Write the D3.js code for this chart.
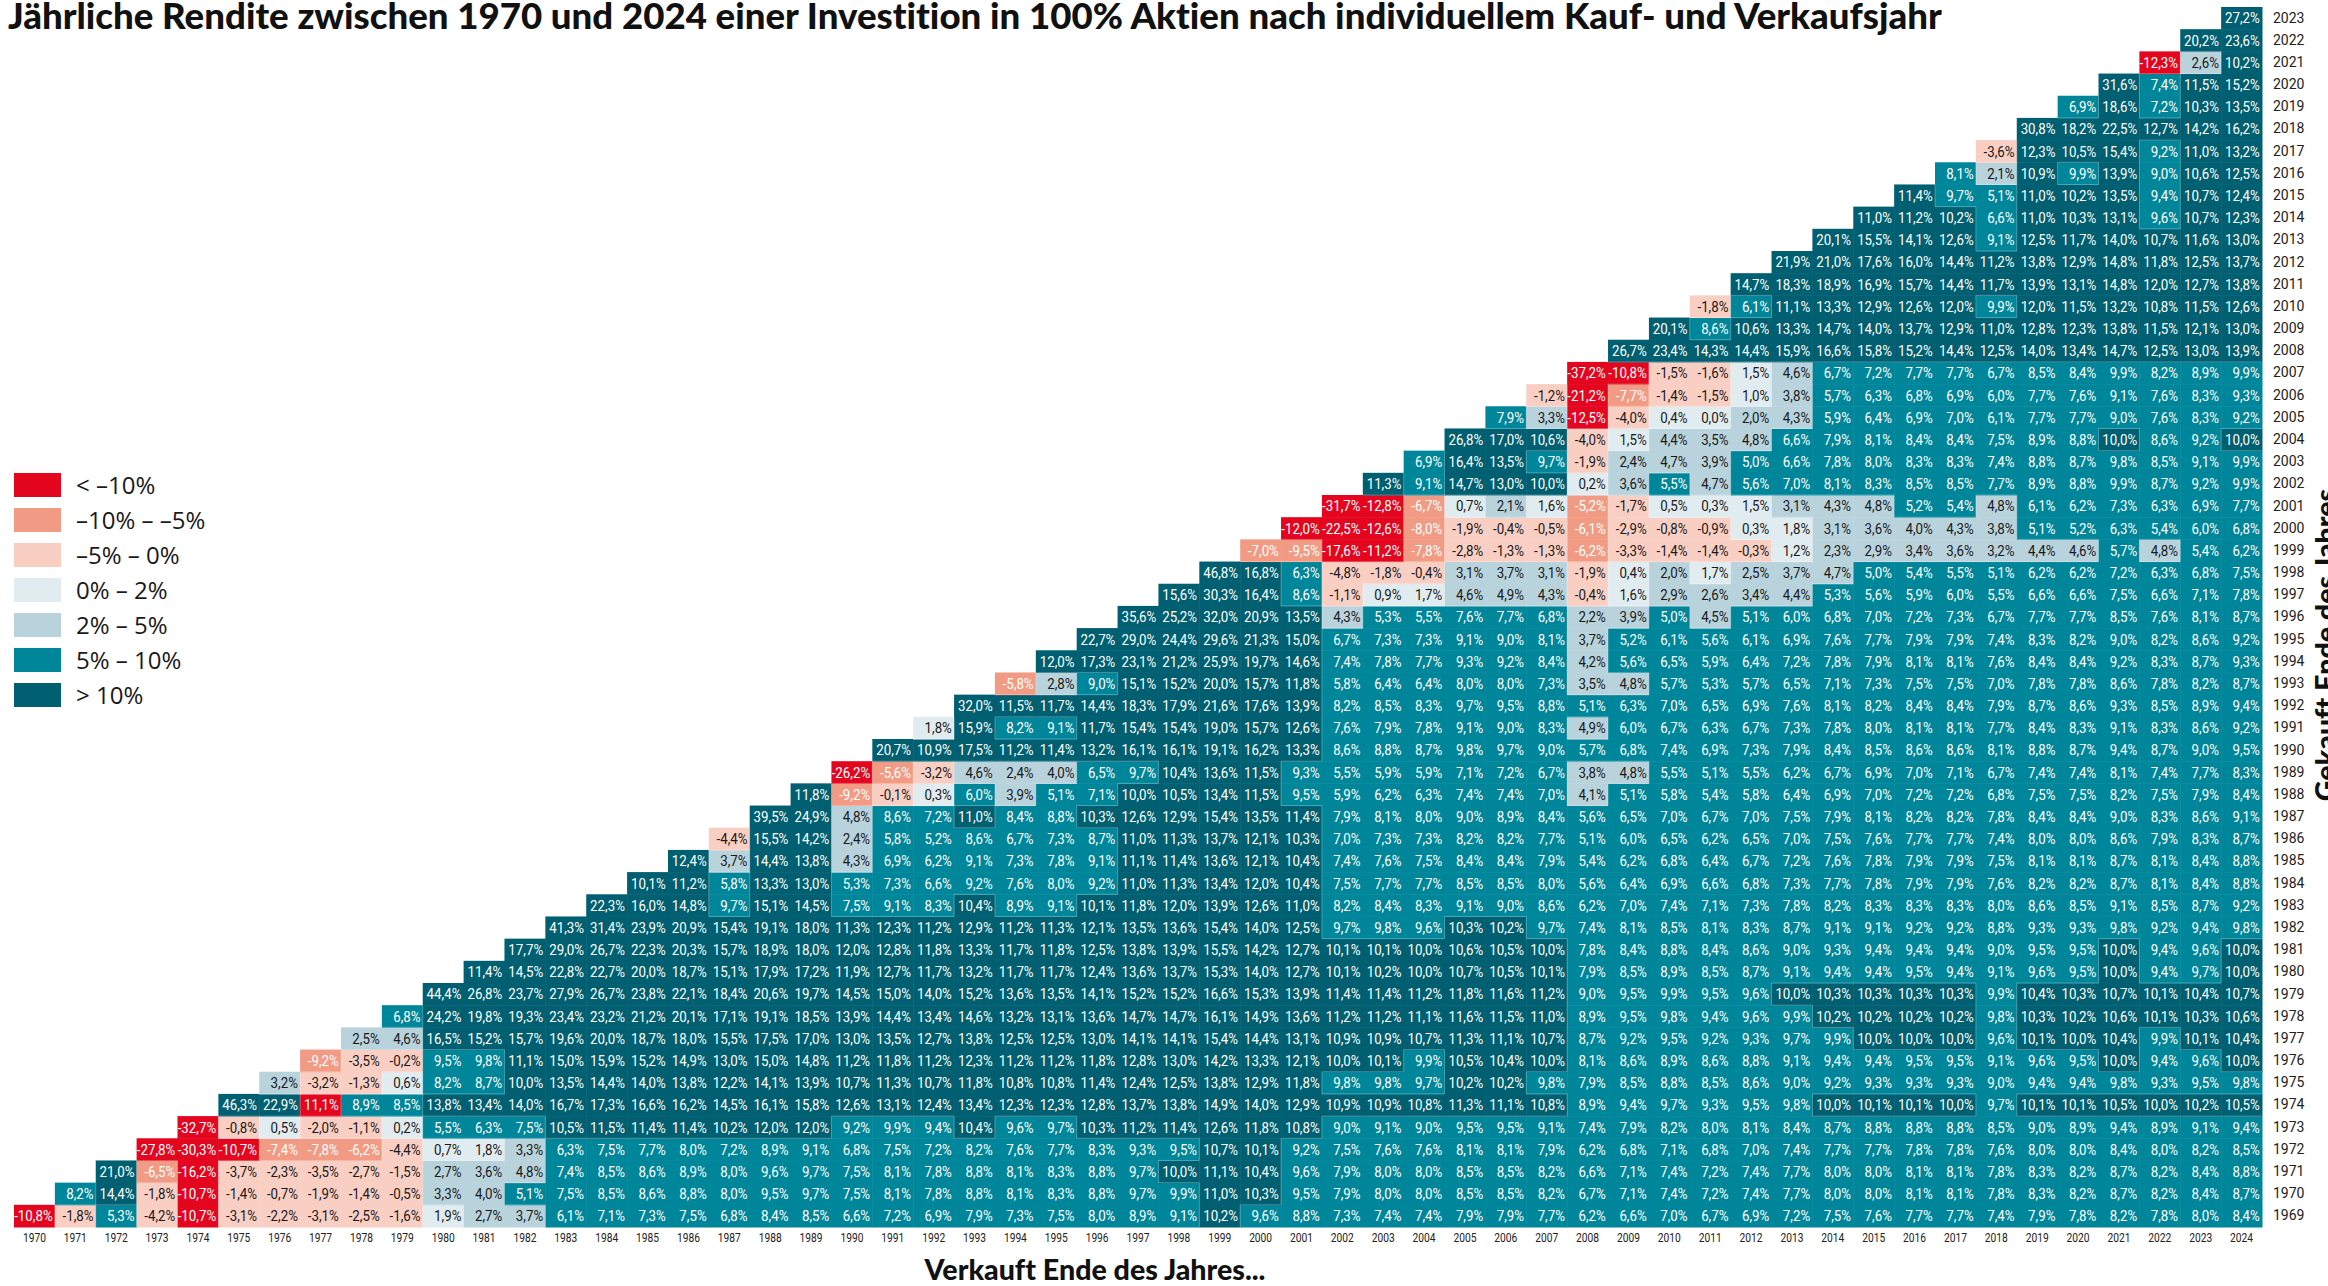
<!DOCTYPE html>
<html>
<head>
<meta charset="utf-8">
<script src="https://cdn.jsdelivr.net/npm/d3@7"></script>
<style>
  body { margin: 0; background: #fff; }
  svg { display: block; }
  text { font-variant-ligatures: none; }
</style>
</head>
<body>
<div id="chart"></div>
<script>
// Sell years (columns) and buy years (rows)
const sellYears = d3.range(1970, 2025);
const buyYears = d3.range(1969, 2024);

// Annualised return in %, one array per buy year, starting with the following sell year
const r1969 = [-10.8,-1.8,5.3,-4.2,-10.7,-3.1,-2.2,-3.1,-2.5,-1.6,1.9,2.7,3.7,6.1,7.1,7.3,7.5,6.8,8.4,8.5,6.6,7.2,6.9,7.9,7.3,7.5,8.0,8.9,9.1,10.2,9.6,8.8,7.3,7.4,7.4,7.9,7.9,7.7,6.2,6.6,7.0,6.7,6.9,7.2,7.5,7.6,7.7,7.7,7.4,7.9,7.8,8.2,7.8,8.0,8.4];
const r1970 = [8.2,14.4,-1.8,-10.7,-1.4,-0.7,-1.9,-1.4,-0.5,3.3,4.0,5.1,7.5,8.5,8.6,8.8,8.0,9.5,9.7,7.5,8.1,7.8,8.8,8.1,8.3,8.8,9.7,9.9,11.0,10.3,9.5,7.9,8.0,8.0,8.5,8.5,8.2,6.7,7.1,7.4,7.2,7.4,7.7,8.0,8.0,8.1,8.1,7.8,8.3,8.2,8.7,8.2,8.4,8.7];
const r1971 = [21.0,-6.5,-16.2,-3.7,-2.3,-3.5,-2.7,-1.5,2.7,3.6,4.8,7.4,8.5,8.6,8.9,8.0,9.6,9.7,7.5,8.1,7.8,8.8,8.1,8.3,8.8,9.7,10.0,11.1,10.4,9.6,7.9,8.0,8.0,8.5,8.5,8.2,6.6,7.1,7.4,7.2,7.4,7.7,8.0,8.0,8.1,8.1,7.8,8.3,8.2,8.7,8.2,8.4,8.8];
const r1972 = [-27.8,-30.3,-10.7,-7.4,-7.8,-6.2,-4.4,0.7,1.8,3.3,6.3,7.5,7.7,8.0,7.2,8.9,9.1,6.8,7.5,7.2,8.2,7.6,7.7,8.3,9.3,9.5,10.7,10.1,9.2,7.5,7.6,7.6,8.1,8.1,7.9,6.2,6.8,7.1,6.8,7.0,7.4,7.7,7.7,7.8,7.8,7.6,8.0,8.0,8.4,8.0,8.2,8.5];
const r1973 = [-32.7,-0.8,0.5,-2.0,-1.1,0.2,5.5,6.3,7.5,10.5,11.5,11.4,11.4,10.2,12.0,12.0,9.2,9.9,9.4,10.4,9.6,9.7,10.3,11.2,11.4,12.6,11.8,10.8,9.0,9.1,9.0,9.5,9.5,9.1,7.4,7.9,8.2,8.0,8.1,8.4,8.7,8.8,8.8,8.8,8.5,9.0,8.9,9.4,8.9,9.1,9.4];
const r1974 = [46.3,22.9,11.1,8.9,8.5,13.8,13.4,14.0,16.7,17.3,16.6,16.2,14.5,16.1,15.8,12.6,13.1,12.4,13.4,12.3,12.3,12.8,13.7,13.8,14.9,14.0,12.9,10.9,10.9,10.8,11.3,11.1,10.8,8.9,9.4,9.7,9.3,9.5,9.8,10.0,10.1,10.1,10.0,9.7,10.1,10.1,10.5,10.0,10.2,10.5];
const r1975 = [3.2,-3.2,-1.3,0.6,8.2,8.7,10.0,13.5,14.4,14.0,13.8,12.2,14.1,13.9,10.7,11.3,10.7,11.8,10.8,10.8,11.4,12.4,12.5,13.8,12.9,11.8,9.8,9.8,9.7,10.2,10.2,9.8,7.9,8.5,8.8,8.5,8.6,9.0,9.2,9.3,9.3,9.3,9.0,9.4,9.4,9.8,9.3,9.5,9.8];
const r1976 = [-9.2,-3.5,-0.2,9.5,9.8,11.1,15.0,15.9,15.2,14.9,13.0,15.0,14.8,11.2,11.8,11.2,12.3,11.2,11.2,11.8,12.8,13.0,14.2,13.3,12.1,10.0,10.1,9.9,10.5,10.4,10.0,8.1,8.6,8.9,8.6,8.8,9.1,9.4,9.4,9.5,9.5,9.1,9.6,9.5,10.0,9.4,9.6,10.0];
const r1977 = [2.5,4.6,16.5,15.2,15.7,19.6,20.0,18.7,18.0,15.5,17.5,17.0,13.0,13.5,12.7,13.8,12.5,12.5,13.0,14.1,14.1,15.4,14.4,13.1,10.9,10.9,10.7,11.3,11.1,10.7,8.7,9.2,9.5,9.2,9.3,9.7,9.9,10.0,10.0,10.0,9.6,10.1,10.0,10.4,9.9,10.1,10.4];
const r1978 = [6.8,24.2,19.8,19.3,23.4,23.2,21.2,20.1,17.1,19.1,18.5,13.9,14.4,13.4,14.6,13.2,13.1,13.6,14.7,14.7,16.1,14.9,13.6,11.2,11.2,11.1,11.6,11.5,11.0,8.9,9.5,9.8,9.4,9.6,9.9,10.2,10.2,10.2,10.2,9.8,10.3,10.2,10.6,10.1,10.3,10.6];
const r1979 = [44.4,26.8,23.7,27.9,26.7,23.8,22.1,18.4,20.6,19.7,14.5,15.0,14.0,15.2,13.6,13.5,14.1,15.2,15.2,16.6,15.3,13.9,11.4,11.4,11.2,11.8,11.6,11.2,9.0,9.5,9.9,9.5,9.6,10.0,10.3,10.3,10.3,10.3,9.9,10.4,10.3,10.7,10.1,10.4,10.7];
const r1980 = [11.4,14.5,22.8,22.7,20.0,18.7,15.1,17.9,17.2,11.9,12.7,11.7,13.2,11.7,11.7,12.4,13.6,13.7,15.3,14.0,12.7,10.1,10.2,10.0,10.7,10.5,10.1,7.9,8.5,8.9,8.5,8.7,9.1,9.4,9.4,9.5,9.4,9.1,9.6,9.5,10.0,9.4,9.7,10.0];
const r1981 = [17.7,29.0,26.7,22.3,20.3,15.7,18.9,18.0,12.0,12.8,11.8,13.3,11.7,11.8,12.5,13.8,13.9,15.5,14.2,12.7,10.1,10.1,10.0,10.6,10.5,10.0,7.8,8.4,8.8,8.4,8.6,9.0,9.3,9.4,9.4,9.4,9.0,9.5,9.5,10.0,9.4,9.6,10.0];
const r1982 = [41.3,31.4,23.9,20.9,15.4,19.1,18.0,11.3,12.3,11.2,12.9,11.2,11.3,12.1,13.5,13.6,15.4,14.0,12.5,9.7,9.8,9.6,10.3,10.2,9.7,7.4,8.1,8.5,8.1,8.3,8.7,9.1,9.1,9.2,9.2,8.8,9.3,9.3,9.8,9.2,9.4,9.8];
const r1983 = [22.3,16.0,14.8,9.7,15.1,14.5,7.5,9.1,8.3,10.4,8.9,9.1,10.1,11.8,12.0,13.9,12.6,11.0,8.2,8.4,8.3,9.1,9.0,8.6,6.2,7.0,7.4,7.1,7.3,7.8,8.2,8.3,8.3,8.3,8.0,8.6,8.5,9.1,8.5,8.7,9.2];
const r1984 = [10.1,11.2,5.8,13.3,13.0,5.3,7.3,6.6,9.2,7.6,8.0,9.2,11.0,11.3,13.4,12.0,10.4,7.5,7.7,7.7,8.5,8.5,8.0,5.6,6.4,6.9,6.6,6.8,7.3,7.7,7.8,7.9,7.9,7.6,8.2,8.2,8.7,8.1,8.4,8.8];
const r1985 = [12.4,3.7,14.4,13.8,4.3,6.9,6.2,9.1,7.3,7.8,9.1,11.1,11.4,13.6,12.1,10.4,7.4,7.6,7.5,8.4,8.4,7.9,5.4,6.2,6.8,6.4,6.7,7.2,7.6,7.8,7.9,7.9,7.5,8.1,8.1,8.7,8.1,8.4,8.8];
const r1986 = [-4.4,15.5,14.2,2.4,5.8,5.2,8.6,6.7,7.3,8.7,11.0,11.3,13.7,12.1,10.3,7.0,7.3,7.3,8.2,8.2,7.7,5.1,6.0,6.5,6.2,6.5,7.0,7.5,7.6,7.7,7.7,7.4,8.0,8.0,8.6,7.9,8.3,8.7];
const r1987 = [39.5,24.9,4.8,8.6,7.2,11.0,8.4,8.8,10.3,12.6,12.9,15.4,13.5,11.4,7.9,8.1,8.0,9.0,8.9,8.4,5.6,6.5,7.0,6.7,7.0,7.5,7.9,8.1,8.2,8.2,7.8,8.4,8.4,9.0,8.3,8.6,9.1];
const r1988 = [11.8,-9.2,-0.1,0.3,6.0,3.9,5.1,7.1,10.0,10.5,13.4,11.5,9.5,5.9,6.2,6.3,7.4,7.4,7.0,4.1,5.1,5.8,5.4,5.8,6.4,6.9,7.0,7.2,7.2,6.8,7.5,7.5,8.2,7.5,7.9,8.4];
const r1989 = [-26.2,-5.6,-3.2,4.6,2.4,4.0,6.5,9.7,10.4,13.6,11.5,9.3,5.5,5.9,5.9,7.1,7.2,6.7,3.8,4.8,5.5,5.1,5.5,6.2,6.7,6.9,7.0,7.1,6.7,7.4,7.4,8.1,7.4,7.7,8.3];
const r1990 = [20.7,10.9,17.5,11.2,11.4,13.2,16.1,16.1,19.1,16.2,13.3,8.6,8.8,8.7,9.8,9.7,9.0,5.7,6.8,7.4,6.9,7.3,7.9,8.4,8.5,8.6,8.6,8.1,8.8,8.7,9.4,8.7,9.0,9.5];
const r1991 = [1.8,15.9,8.2,9.1,11.7,15.4,15.4,19.0,15.7,12.6,7.6,7.9,7.8,9.1,9.0,8.3,4.9,6.0,6.7,6.3,6.7,7.3,7.8,8.0,8.1,8.1,7.7,8.4,8.3,9.1,8.3,8.6,9.2];
const r1992 = [32.0,11.5,11.7,14.4,18.3,17.9,21.6,17.6,13.9,8.2,8.5,8.3,9.7,9.5,8.8,5.1,6.3,7.0,6.5,6.9,7.6,8.1,8.2,8.4,8.4,7.9,8.7,8.6,9.3,8.5,8.9,9.4];
const r1993 = [-5.8,2.8,9.0,15.1,15.2,20.0,15.7,11.8,5.8,6.4,6.4,8.0,8.0,7.3,3.5,4.8,5.7,5.3,5.7,6.5,7.1,7.3,7.5,7.5,7.0,7.8,7.8,8.6,7.8,8.2,8.7];
const r1994 = [12.0,17.3,23.1,21.2,25.9,19.7,14.6,7.4,7.8,7.7,9.3,9.2,8.4,4.2,5.6,6.5,5.9,6.4,7.2,7.8,7.9,8.1,8.1,7.6,8.4,8.4,9.2,8.3,8.7,9.3];
const r1995 = [22.7,29.0,24.4,29.6,21.3,15.0,6.7,7.3,7.3,9.1,9.0,8.1,3.7,5.2,6.1,5.6,6.1,6.9,7.6,7.7,7.9,7.9,7.4,8.3,8.2,9.0,8.2,8.6,9.2];
const r1996 = [35.6,25.2,32.0,20.9,13.5,4.3,5.3,5.5,7.6,7.7,6.8,2.2,3.9,5.0,4.5,5.1,6.0,6.8,7.0,7.2,7.3,6.7,7.7,7.7,8.5,7.6,8.1,8.7];
const r1997 = [15.6,30.3,16.4,8.6,-1.1,0.9,1.7,4.6,4.9,4.3,-0.4,1.6,2.9,2.6,3.4,4.4,5.3,5.6,5.9,6.0,5.5,6.6,6.6,7.5,6.6,7.1,7.8];
const r1998 = [46.8,16.8,6.3,-4.8,-1.8,-0.4,3.1,3.7,3.1,-1.9,0.4,2.0,1.7,2.5,3.7,4.7,5.0,5.4,5.5,5.1,6.2,6.2,7.2,6.3,6.8,7.5];
const r1999 = [-7.0,-9.5,-17.6,-11.2,-7.8,-2.8,-1.3,-1.3,-6.2,-3.3,-1.4,-1.4,-0.3,1.2,2.3,2.9,3.4,3.6,3.2,4.4,4.6,5.7,4.8,5.4,6.2];
const r2000 = [-12.0,-22.5,-12.6,-8.0,-1.9,-0.4,-0.5,-6.1,-2.9,-0.8,-0.9,0.3,1.8,3.1,3.6,4.0,4.3,3.8,5.1,5.2,6.3,5.4,6.0,6.8];
const r2001 = [-31.7,-12.8,-6.7,0.7,2.1,1.6,-5.2,-1.7,0.5,0.3,1.5,3.1,4.3,4.8,5.2,5.4,4.8,6.1,6.2,7.3,6.3,6.9,7.7];
const r2002 = [11.3,9.1,14.7,13.0,10.0,0.2,3.6,5.5,4.7,5.6,7.0,8.1,8.3,8.5,8.5,7.7,8.9,8.8,9.9,8.7,9.2,9.9];
const r2003 = [6.9,16.4,13.5,9.7,-1.9,2.4,4.7,3.9,5.0,6.6,7.8,8.0,8.3,8.3,7.4,8.8,8.7,9.8,8.5,9.1,9.9];
const r2004 = [26.8,17.0,10.6,-4.0,1.5,4.4,3.5,4.8,6.6,7.9,8.1,8.4,8.4,7.5,8.9,8.8,10.0,8.6,9.2,10.0];
const r2005 = [7.9,3.3,-12.5,-4.0,0.4,0.0,2.0,4.3,5.9,6.4,6.9,7.0,6.1,7.7,7.7,9.0,7.6,8.3,9.2];
const r2006 = [-1.2,-21.2,-7.7,-1.4,-1.5,1.0,3.8,5.7,6.3,6.8,6.9,6.0,7.7,7.6,9.1,7.6,8.3,9.3];
const r2007 = [-37.2,-10.8,-1.5,-1.6,1.5,4.6,6.7,7.2,7.7,7.7,6.7,8.5,8.4,9.9,8.2,8.9,9.9];
const r2008 = [26.7,23.4,14.3,14.4,15.9,16.6,15.8,15.2,14.4,12.5,14.0,13.4,14.7,12.5,13.0,13.9];
const r2009 = [20.1,8.6,10.6,13.3,14.7,14.0,13.7,12.9,11.0,12.8,12.3,13.8,11.5,12.1,13.0];
const r2010 = [-1.8,6.1,11.1,13.3,12.9,12.6,12.0,9.9,12.0,11.5,13.2,10.8,11.5,12.6];
const r2011 = [14.7,18.3,18.9,16.9,15.7,14.4,11.7,13.9,13.1,14.8,12.0,12.7,13.8];
const r2012 = [21.9,21.0,17.6,16.0,14.4,11.2,13.8,12.9,14.8,11.8,12.5,13.7];
const r2013 = [20.1,15.5,14.1,12.6,9.1,12.5,11.7,14.0,10.7,11.6,13.0];
const r2014 = [11.0,11.2,10.2,6.6,11.0,10.3,13.1,9.6,10.7,12.3];
const r2015 = [11.4,9.7,5.1,11.0,10.2,13.5,9.4,10.7,12.4];
const r2016 = [8.1,2.1,10.9,9.9,13.9,9.0,10.6,12.5];
const r2017 = [-3.6,12.3,10.5,15.4,9.2,11.0,13.2];
const r2018 = [30.8,18.2,22.5,12.7,14.2,16.2];
const r2019 = [6.9,18.6,7.2,10.3,13.5];
const r2020 = [31.6,7.4,11.5,15.2];
const r2021 = [-12.3,2.6,10.2];
const r2022 = [20.2,23.6];
const r2023 = [27.2];

const returnRows = [r1969,r1970,r1971,r1972,r1973,r1974,r1975,r1976,r1977,r1978,r1979,r1980,r1981,r1982,r1983,r1984,r1985,r1986,r1987,r1988,r1989,r1990,r1991,r1992,r1993,r1994,r1995,r1996,r1997,r1998,r1999,r2000,r2001,r2002,r2003,r2004,r2005,r2006,r2007,r2008,r2009,r2010,r2011,r2012,r2013,r2014,r2015,r2016,r2017,r2018,r2019,r2020,r2021,r2022,r2023];

// Legend classes
const legendLabels = ["< \u201310%", "\u201310% \u2013 \u20135%", "\u20135% \u2013 0%", "0% \u2013 2%", "2% \u2013 5%", "5% \u2013 10%", "> 10%"];
const legendColors = ["#e4051f", "#f29b84", "#f9cfc4", "#e1ecf1", "#b9d3dd", "#00869a", "#005f71"];
const thresholds = [-10, -5, 0, 2, 5, 10];
// cell that the original colours differently from the legend rule
const colourExceptions = [{ buy: 1974, sell: 1977, band: 0 }];

const W = 2328, H = 1286;
const numFont = "Roboto, 'Liberation Sans', sans-serif";

const svg = d3.select("#chart").append("svg")
  .attr("width", W)
  .attr("height", H);

const x = d3.scaleBand().domain(sellYears).range([14, 2262]).padding(0);
const y = d3.scaleBand().domain(buyYears).range([1227, 7]).padding(0);
const band = d3.scaleThreshold().domain(thresholds).range(d3.range(7));

const fmt = d3.formatLocale({ decimal: ",", thousands: ".", grouping: [3], currency: ["", "\u20ac"], minus: "-" }).format(".1f");

// Flatten rows into cells
const cells = [];
returnRows.forEach((row, i) => {
  row.forEach((v, k) => {
    const buy = buyYears[i], sell = buy + 1 + k;
    const ex = colourExceptions.find(e => e.buy === buy && e.sell === sell);
    cells.push({ buy, sell, value: v, band: ex ? ex.band : band(v) });
  });
});
const lookup = new Map(cells.map(d => [d.buy + "-" + d.sell, d]));

const g = svg.append("g");

g.selectAll(".cell")
  .data(cells)
  .enter().append("rect")
  .attr("class", "cell")
  .attr("x", d => x(d.sell))
  .attr("y", d => y(d.buy))
  .attr("width", x.bandwidth() + 0.5)
  .attr("height", y.bandwidth() + 0.5)
  .attr("fill", d => legendColors[d.band]);

// thin lines where the colour class changes
const edges = [];
cells.forEach(d => {
  const right = lookup.get(d.buy + "-" + (d.sell + 1));
  if (right && right.band !== d.band) {
    const xx = x(d.sell) + x.bandwidth();
    edges.push([xx, y(d.buy), xx, y(d.buy) + y.bandwidth()]);
  }
  const up = lookup.get((d.buy + 1) + "-" + d.sell);
  if (up && up.band !== d.band) {
    edges.push([x(d.sell), y(d.buy), x(d.sell) + x.bandwidth(), y(d.buy)]);
  }
});
g.selectAll(".edge")
  .data(edges)
  .enter().append("line")
  .attr("class", "edge")
  .attr("x1", d => d[0]).attr("y1", d => d[1])
  .attr("x2", d => d[2]).attr("y2", d => d[3])
  .attr("stroke", "rgba(255,255,255,0.28)")
  .attr("stroke-width", 1);

// cell labels, squeezed horizontally to look like the narrow original font
const labels = g.selectAll(".cell-label")
  .data(cells)
  .enter().append("text")
  .attr("class", "cell-label")
  .attr("text-anchor", "end")
  .attr("dy", "0.36em")
  .style("font-family", numFont)
  .style("font-size", "15px")
  .style("fill", d => (d.band >= 2 && d.band <= 4) ? "#1a1a1a" : "#ffffff")
  .text(d => fmt(d.value) + "%");

let widest = 0;
labels.each(function() { widest = Math.max(widest, this.getComputedTextLength()); });
const squeeze = Math.min(1, 38.5 / widest);
labels.attr("transform", d =>
  `translate(${x(d.sell) + x.bandwidth() - 2.2},${y(d.buy) + y.bandwidth() / 2}) scale(${squeeze},1)`);

// x axis (sell year)
const xAxis = d3.axisBottom(x).tickSize(0).tickPadding(0);
const xTicks = svg.append("g")
  .attr("class", "x-axis")
  .attr("transform", "translate(0,1233)")
  .call(xAxis)
  .call(s => s.select(".domain").remove())
  .selectAll("text")
  .attr("dy", "0.71em")
  .style("font-family", numFont)
  .style("font-size", "13px")
  .style("fill", "#222");
let tickW = 0;
xTicks.each(function() { tickW = Math.max(tickW, this.getComputedTextLength()); });
xTicks.attr("transform", `scale(${Math.min(1, 23 / tickW)},1)`);

// y axis (buy year) on the right
const yAxis = d3.axisRight(y).tickSize(0).tickPadding(0);
svg.append("g")
  .attr("class", "y-axis")
  .attr("transform", "translate(2273,0)")
  .call(yAxis)
  .call(s => s.select(".domain").remove())
  .selectAll("text")
  .style("font-family", numFont)
  .style("font-size", "14px")
  .style("fill", "#222");

function fitWidth(sel, target) {
  const w = sel.node().getComputedTextLength();
  const fs = parseFloat(sel.style("font-size"));
  sel.style("font-size", (fs * target / w) + "px");
}

// Title
const title = svg.append("text")
  .attr("x", 8)
  .attr("y", 29)
  .style("font-family", "Lato, 'Open Sans', sans-serif")
  .style("font-weight", "900")
  .style("font-size", "32px")
  .style("fill", "#111")
  .text("J\u00e4hrliche Rendite zwischen 1970 und 2024 einer Investition in 100% Aktien nach individuellem Kauf- und Verkaufsjahr");
fitWidth(title, 1934);

// Axis titles
const xTitle = svg.append("text")
  .attr("x", 1095)
  .attr("y", 1280)
  .attr("text-anchor", "middle")
  .style("font-family", "Lato, 'Open Sans', sans-serif")
  .style("font-weight", "900")
  .style("font-size", "24px")
  .style("fill", "#111")
  .text("Verkauft Ende des Jahres...");
fitWidth(xTitle, 341);

svg.append("text")
  .attr("transform", "translate(2336,645) rotate(-90)")
  .attr("text-anchor", "middle")
  .style("font-family", "Lato, 'Open Sans', sans-serif")
  .style("font-weight", "900")
  .style("font-size", xTitle.style("font-size"))
  .style("fill", "#111")
  .text("Gekauft Ende des Jahres");

// Legend
const legend = svg.append("g").attr("class", "legend");
const item = legend.selectAll(".item")
  .data(legendLabels)
  .enter().append("g")
  .attr("class", "item")
  .attr("transform", (d, i) => `translate(14,${473 + i * 35})`);
item.append("rect")
  .attr("width", 47)
  .attr("height", 24)
  .attr("fill", (d, i) => legendColors[i]);
item.append("text")
  .attr("x", 62)
  .attr("y", 12)
  .attr("dy", "0.36em")
  .style("font-family", "'Open Sans', sans-serif")
  .style("font-size", "24px")
  .style("fill", "#1a1a1a")
  .text(d => d);
</script>
</body>
</html>
